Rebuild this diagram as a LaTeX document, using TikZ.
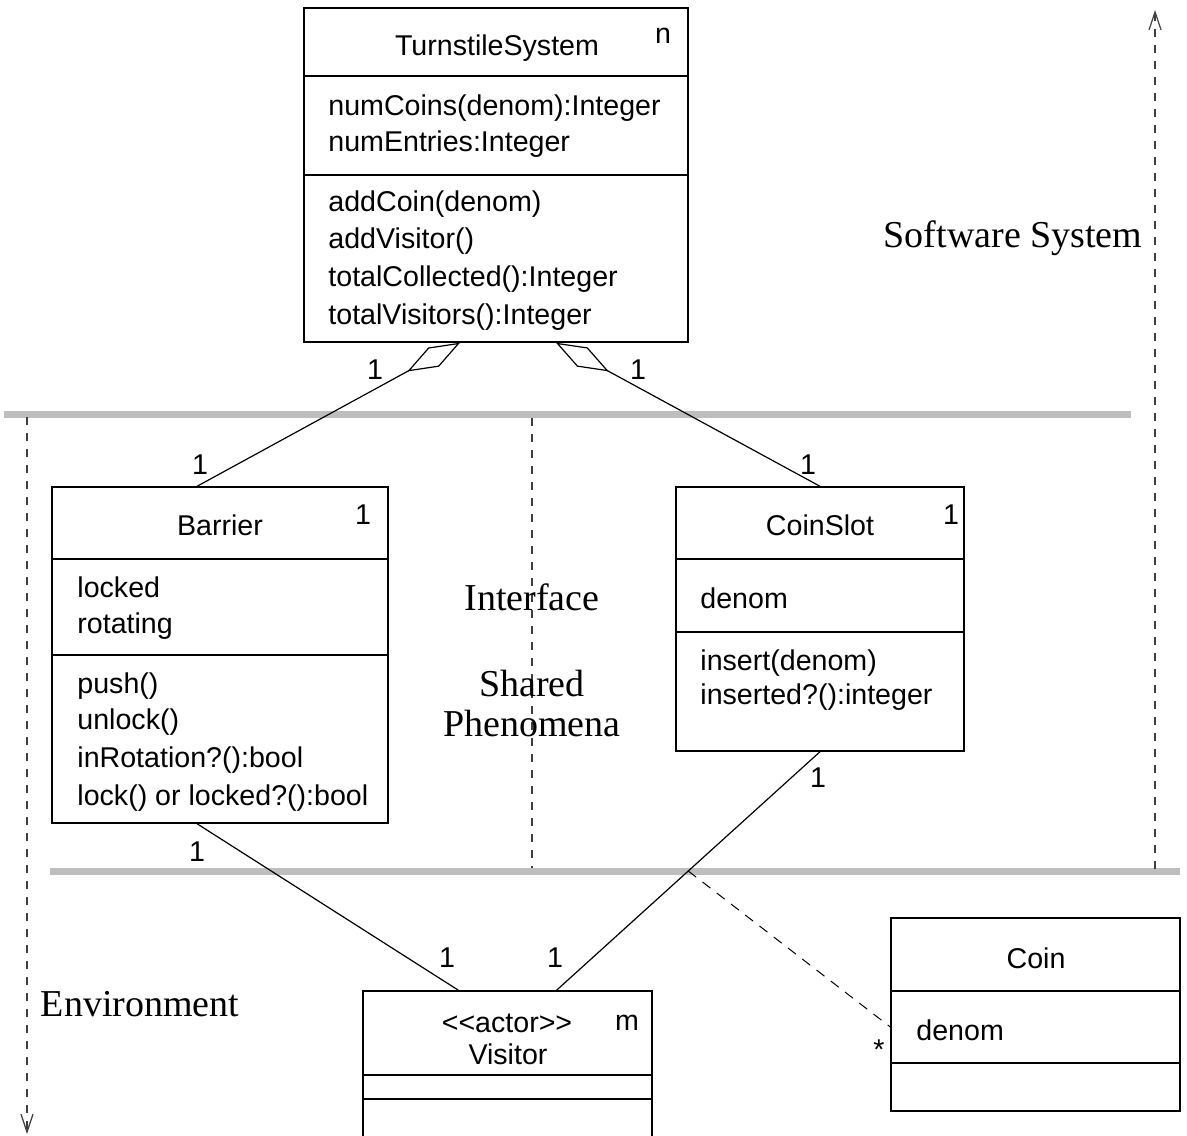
\documentclass[tikz,border=0pt]{standalone}
\usepackage{fontspec}
\setmainfont{Liberation Serif}
\setsansfont{Liberation Sans}
\usetikzlibrary{arrows.meta,positioning,calc}
\definecolor{barGray}{RGB}{190,190,190}
\newcommand{\umlfont}{\sffamily\fontsize{14.3}{17}\selectfont}
\newcommand{\regionfont}{\rmfamily\fontsize{19}{20}\selectfont}
\tikzset{
  classbox/.style={draw, line width=0.7pt, inner sep=0pt},
  divider/.style={line width=0.6pt},
  member/.style={anchor=west, font=\umlfont, inner sep=0pt, text height=0.75em, text depth=0.2em, yshift=-2.5pt},
  title/.style={font=\umlfont, inner sep=0pt, text height=0.75em, text depth=0.2em, yshift=-2.5pt},
  mult/.style={font=\umlfont, inner sep=0pt},
  assoc/.style={line width=0.6pt},
  bar/.style={line width=3.5pt, color=barGray},
  boundary/.style={line width=0.6pt, dash pattern=on 4pt off 4pt, color=black!75},
  link/.style={line width=0.5pt, dash pattern=on 5pt off 4pt},
  region/.style={font=\regionfont, inner sep=0pt, align=center},
}

\begin{document}
\begin{tikzpicture}[x=0.5pt, y=-0.5pt]
  \clip (0,0) rectangle (1187,1135);

  % Layer bars
  \coordinate (barTL) at (4,414);
  \coordinate (barTR) at (1131,414);
  \coordinate (barBL) at (50,871);
  \coordinate (barBR) at (1180,871);
  \draw[bar] (barTL) -- (barTR);
  \draw[bar] (barBL) -- (barBR);

  % Boundaries
  \coordinate (envTop) at (27,417);
  \coordinate (envEnd) at (27,1134);
  \coordinate (ifTop) at (532,418);
  \coordinate (ifEnd) at (532,868);
  \coordinate (swTop) at (1155,869);
  \coordinate (swEnd) at (1155,10);
  \draw[boundary, -{Straight Barb[length=9pt,width=6pt]}] (envTop) -- (envEnd);
  \draw[boundary] (ifTop) -- (ifEnd);
  \draw[boundary, -{Straight Barb[length=9pt,width=6pt]}] (swTop) -- (swEnd);

  \node[region] (swLabel) at (1013,238) {Software System};
  \node[region] (ifLabel) at (532,597) {Interface};
  \node[region] (shLabel) at (532,703) {Shared\\Phenomena};
  \node[region] (envLabel) at (140,1004) {Environment};

  % TurnstileSystem
  \node[classbox, minimum width=192pt, minimum height=167pt] (ts) at (496,175) {};
  \draw[divider] (ts.west |- 0,76) -- (ts.east |- 0,76);
  \draw[divider] (ts.west |- 0,175) -- (ts.east |- 0,175);
  \node[title] (tsName) at (497,45) {TurnstileSystem};
  \node[mult] (tsMult) at (663,36) {n};
  \node[member] at (328,105) {numCoins(denom):Integer};
  \node[member] at (328,141) {numEntries:Integer};
  \node[member] at (328,201) {addCoin(denom)};
  \node[member] at (328,238) {addVisitor()};
  \node[member] at (328,276) {totalCollected():Integer};
  \node[member] at (328,314) {totalVisitors():Integer};

  % Barrier
  \node[classbox, minimum width=168pt, minimum height=168pt] (barrier) at (220,655) {};
  \draw[divider] (barrier.west |- 0,559) -- (barrier.east |- 0,559);
  \draw[divider] (barrier.west |- 0,655) -- (barrier.east |- 0,655);
  \node[title] (barrierName) at (220,525) {Barrier};
  \node[mult] (barrierMult) at (363,515) {1};
  \node[member] at (77,587) {locked};
  \node[member] at (77,623) {rotating};
  \node[member] at (77,683) {push()};
  \node[member] at (77,719) {unlock()};
  \node[member] at (77,757) {inRotation?():bool};
  \node[member] at (77,795) {lock() or locked?():bool};

  % CoinSlot
  \node[classbox, minimum width=144pt, minimum height=132pt] (coinslot) at (820,619) {};
  \draw[divider] (coinslot.west |- 0,559) -- (coinslot.east |- 0,559);
  \draw[divider] (coinslot.west |- 0,632) -- (coinslot.east |- 0,632);
  \node[title] (coinslotName) at (820,525) {CoinSlot};
  \node[mult] (coinslotMult) at (951,515) {1};
  \node[member] at (700,598) {denom};
  \node[member] at (700,660) {insert(denom)};
  \node[member] at (700,694) {inserted?():integer};

  % Visitor
  \node[classbox, minimum width=144.5pt, minimum height=77pt] (visitor) at (507.5,1068) {};
  \draw[divider] (visitor.west |- 0,1075) -- (visitor.east |- 0,1075);
  \draw[divider] (visitor.west |- 0,1099) -- (visitor.east |- 0,1099);
  \node[title] (visitorStereo) at (507,1022) {<{}<actor>{}>};
  \node[title] (visitorName) at (508,1054) {Visitor};
  \node[mult] (visitorMult) at (627,1023) {m};

  % Coin
  \node[classbox, minimum width=144.5pt, minimum height=96.5pt] (coin) at (1035.5,1014.5) {};
  \draw[divider] (coin.west |- 0,991) -- (coin.east |- 0,991);
  \draw[divider] (coin.west |- 0,1063) -- (coin.east |- 0,1063);
  \node[title] (coinName) at (1036,958) {Coin};
  \node[member] at (916,1030) {denom};

  % Aggregations
  \draw[assoc, {Diamond[open,length=30pt,width=11pt]}-] ([xshift=-18pt]ts.south) -- ([xshift=-11.5pt]barrier.north);
  \draw[assoc, {Diamond[open,length=30pt,width=11pt]}-] ([xshift=30pt]ts.south) -- (coinslot.north);
  \node[mult] at (375,370) {1};
  \node[mult] at (638,370) {1};
  \node[mult] at (200,465) {1};
  \node[mult] at (808,465) {1};

  % Associations with Visitor
  \draw[assoc] ([xshift=-11.5pt]barrier.south) -- ([xshift=-24.5pt]visitor.north);
  \draw[assoc] (coinslot.south) -- ([xshift=24.5pt]visitor.north);
  \node[mult] at (197,852) {1};
  \node[mult] at (447,958) {1};
  \node[mult] at (818,778) {1};
  \node[mult] at (555,958) {1};

  % Coin link
  \coordinate (slotLink) at ($(coinslot.south)!0.5!([xshift=24.5pt]visitor.north)$);
  \draw[link] (slotLink) -- ([yshift=-6.25pt]coin.west);
  \node[mult] at (879,1050) {*};
\end{tikzpicture}
\end{document}
